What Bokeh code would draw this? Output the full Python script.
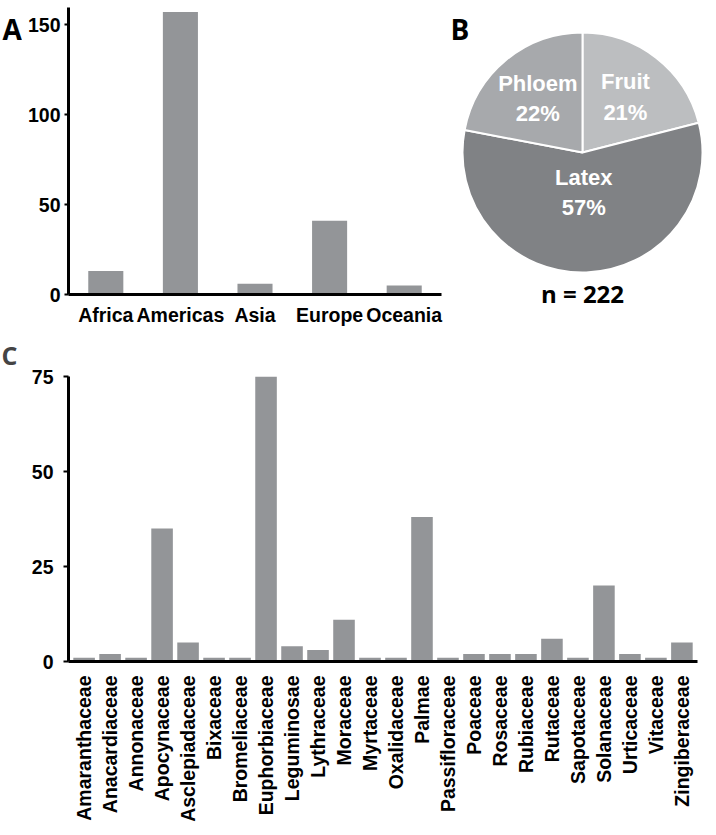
import math
from bokeh.plotting import figure
from bokeh.models import FactorRange, Range1d, FixedTicker, Title, ColumnDataSource
from bokeh.layouts import column, row
from bokeh.embed import file_html
from bokeh.resources import INLINE
from bokeh.core.properties import value

# ---------------- data ----------------
regions = ["Africa", "Americas", "Asia", "Europe", "Oceania"]
region_counts = [13, 157, 6, 41, 5]
region_ticks = [0, 50, 100, 150]

# pie slices, listed clockwise from 12 o'clock
sources = ["Fruit", "Latex", "Phloem"]
source_pct = [21, 57, 22]
n_total = 222

families = ["Amaranthaceae", "Anacardiaceae", "Annonaceae", "Apocynaceae",
            "Asclepiadaceae", "Bixaceae", "Bromeliaceae", "Euphorbiaceae",
            "Leguminosae", "Lythraceae", "Moraceae", "Myrtaceae", "Oxalidaceae",
            "Palmae", "Passifloraceae", "Poaceae", "Rosaceae", "Rubiaceae",
            "Rutaceae", "Sapotaceae", "Solanaceae", "Urticaceae", "Vitaceae",
            "Zingiberaceae"]
family_counts = [1, 2, 1, 35, 5, 1, 1, 75, 4, 3, 11, 1, 1, 38, 1, 2, 2, 2,
                 6, 1, 20, 2, 1, 5]
family_ticks = [0, 25, 50, 75]

# ---------------- style ----------------
BAR = "#939598"
PIE_COLORS = ["#bcbec0", "#808285", "#a7a9ac"]
FONT = "Liberation Sans"
HEAD = "Open Sans"
ROW1_H, TOP1, BOT1 = 330, 7, 36


def base_style(p):
    p.outline_line_color = None
    p.grid.visible = False
    p.background_fill_color = "white"
    p.border_fill_color = "white"
    for ax in p.axis:
        ax.axis_line_width = 3
        ax.axis_line_color = "black"
        ax.major_label_text_font = FONT
        ax.major_label_text_font_style = "bold"
        ax.major_label_text_font_size = "19.5px"
        ax.major_label_text_color = "black"
        ax.minor_tick_line_color = None
        ax.major_tick_line_width = 2
        ax.major_tick_line_color = "black"
        ax.major_tick_in = 0


def blank(width, height, xr, yr, **kw):
    p = figure(width=width, height=height, x_range=xr, y_range=yr,
               x_axis_type=None, y_axis_type=None,
               output_backend="svg", toolbar_location=None, **kw)
    p.outline_line_color = None
    p.grid.visible = False
    return p


# ---------------- panel label A ----------------
labA = blank(22, ROW1_H, Range1d(0, 22), Range1d(0, ROW1_H - TOP1 - BOT1),
             min_border_left=0, min_border_right=0,
             min_border_top=TOP1, min_border_bottom=BOT1)
labA.text(x=[2], y=[266], text=["A"], text_font=value(HEAD), text_font_style="bold",
          text_font_size="28px", text_baseline="alphabetic", text_align="left")

# ---------------- panel A ----------------
pA = figure(width=426, height=ROW1_H,
            x_range=FactorRange(*regions, range_padding=0),
            y_range=Range1d(0, 159.5),
            output_backend="svg", toolbar_location=None,
            min_border_left=46, min_border_right=7,
            min_border_top=TOP1, min_border_bottom=BOT1)
srcA = ColumnDataSource(dict(x=regions, top=region_counts))
pA.vbar(x="x", top="top", width=0.47, source=srcA, fill_color=BAR, line_color=None)
base_style(pA)
pA.yaxis.ticker = FixedTicker(ticks=region_ticks)
pA.yaxis.major_tick_out = 4
pA.yaxis.major_label_standoff = 4
pA.xaxis.major_tick_line_color = None
pA.xaxis.major_tick_out = 0
pA.xaxis.major_label_standoff = 9

# ---------------- panel B ----------------
W_B = 268
H_F = ROW1_H - TOP1 - BOT1
pB = blank(W_B, ROW1_H, Range1d(0, W_B), Range1d(0, H_F),
           min_border_left=0, min_border_right=0,
           min_border_top=TOP1, min_border_bottom=BOT1)
cx, cy, R = 134, 142, 120
total = sum(source_pct)
starts, ends, mids = [], [], []
cum = 0.0
for v in source_pct:
    e = 90 - cum / total * 360
    cum += v
    s = 90 - cum / total * 360
    starts.append(s)
    ends.append(e)
    mids.append((s + e) / 2)
srcB = ColumnDataSource(dict(start=starts, end=ends, color=PIE_COLORS))
pB.wedge(x=cx, y=cy, radius=R, start_angle="start", end_angle="end",
         start_angle_units="deg", end_angle_units="deg",
         fill_color="color", line_color="white", line_width=2, source=srcB)
label_r = [70, 40, 70]
lx = [cx + r * math.cos(math.radians(m)) for r, m in zip(label_r, mids)]
ly = [cy + r * math.sin(math.radians(m)) for r, m in zip(label_r, mids)]
ltxt = [f"{s}\n{v}%" for s, v in zip(sources, source_pct)]
pB.text(x=lx, y=ly, text=ltxt, text_color="white", text_font=value(FONT),
        text_font_style="bold", text_font_size="22px",
        text_align="center", text_baseline="middle", text_line_height=1.22)
pB.text(x=[2], y=[266], text=["B"], text_font=value(HEAD), text_font_style="bold",
        text_font_size="28px", text_baseline="alphabetic", text_align="left")
pB.add_layout(Title(text=f"n = {n_total}", align="center", vertical_align="top",
                    standoff=-36, text_font=HEAD, text_font_style="bold",
                    text_font_size="24px", text_color="black"), "below")

# ---------------- panel C ----------------
pC = figure(width=716, height=495,
            x_range=FactorRange(*families, range_padding=0.1,
                                range_padding_units="absolute"),
            y_range=Range1d(0, 75),
            output_backend="svg", toolbar_location=None,
            min_border_left=68, min_border_right=19,
            min_border_top=42, min_border_bottom=164)
srcC = ColumnDataSource(dict(x=families, top=family_counts))
pC.vbar(x="x", top="top", width=0.83, source=srcC, fill_color=BAR, line_color=None)
base_style(pC)
pC.yaxis.ticker = FixedTicker(ticks=family_ticks)
pC.yaxis.major_tick_out = 5
pC.yaxis.major_label_standoff = 10
pC.xaxis.major_tick_line_color = None
pC.xaxis.major_tick_out = 0
pC.xaxis.major_label_standoff = 14
pC.xaxis.major_label_orientation = math.pi / 2
pC.title.text = "C"
pC.title.align = "left"
pC.title.offset = -67
pC.title.standoff = 10
pC.title.text_font = HEAD
pC.title.text_font_style = "bold"
pC.title.text_font_size = "25px"

layout = column(row(labA, pA, pB), pC)
open("out.html", "w").write(file_html(layout, INLINE))
